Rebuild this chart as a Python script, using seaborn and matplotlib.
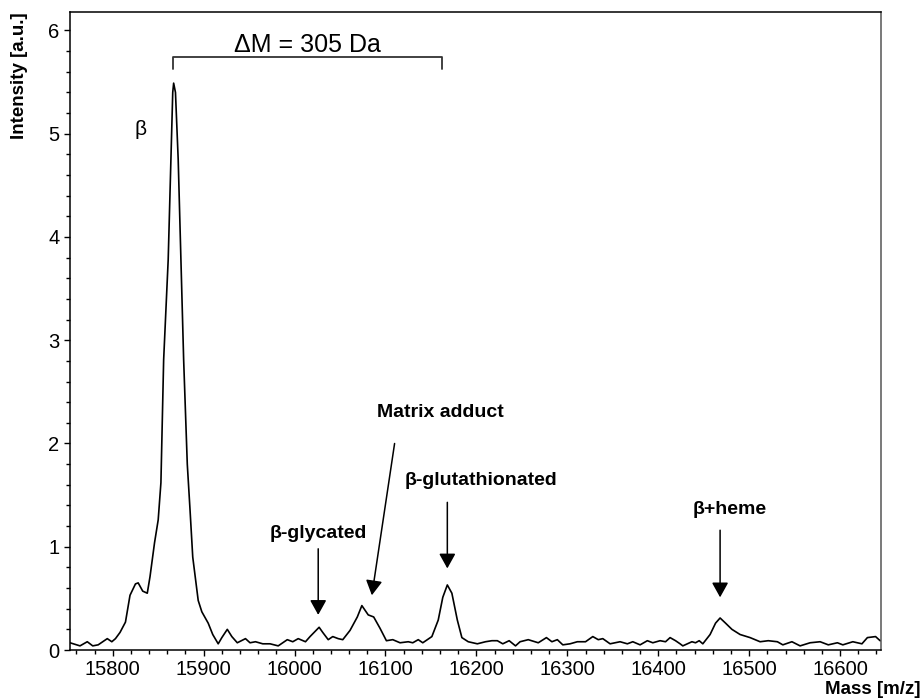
import numpy as np
import pandas as pd
import matplotlib
matplotlib.use("Agg")
import matplotlib.pyplot as plt
from matplotlib.ticker import MultipleLocator
import seaborn as sns

# Spectrum trace (mass in Da, intensity in a.u.)
mass = [
    15750, 15753, 15764, 15772, 15778, 15784, 15794, 15799, 15803, 15808,
    15814, 15819, 15825, 15828, 15833, 15838, 15841, 15846, 15850, 15853,
    15856, 15861, 15864, 15866, 15867, 15869, 15872, 15875, 15878, 15882,
    15885, 15888, 15894, 15898, 15905, 15910, 15916, 15920, 15926, 15931,
    15937, 15946, 15951, 15957, 15965, 15973, 15982, 15992, 15998, 16004,
    16012, 16017, 16027, 16031, 16037, 16042, 16048, 16053, 16061, 16069,
    16074, 16081, 16087, 16094, 16101, 16108, 16116, 16125, 16130, 16136,
    16141, 16151, 16158, 16163, 16168, 16173, 16179, 16184, 16191, 16201,
    16210, 16217, 16223, 16229, 16236, 16243, 16248, 16257, 16268, 16277,
    16283, 16289, 16295, 16303, 16311, 16320, 16328, 16334, 16339, 16347,
    16358, 16366, 16372, 16380, 16388, 16394, 16402, 16408, 16413, 16419,
    16424, 16427, 16437, 16441, 16445, 16449, 16457, 16463, 16468, 16474,
    16481, 16490, 16501, 16512, 16521, 16531, 16537, 16547, 16556, 16567,
    16578, 16587, 16597, 16603, 16614, 16624, 16630, 16639, 16644, 16650,
]
intensity = [
    0.09, 0.07, 0.04, 0.08, 0.04, 0.05, 0.11, 0.08, 0.11, 0.17,
    0.27, 0.53, 0.64, 0.65, 0.57, 0.55, 0.71, 1.04, 1.26, 1.62,
    2.81, 3.78, 4.75, 5.40, 5.49, 5.40, 4.75, 3.78, 2.81, 1.80,
    1.36, 0.90, 0.48, 0.37, 0.26, 0.15, 0.06, 0.12, 0.20, 0.13,
    0.07, 0.11, 0.07, 0.08, 0.06, 0.06, 0.04, 0.10, 0.08, 0.11,
    0.08, 0.13, 0.22, 0.17, 0.10, 0.13, 0.11, 0.10, 0.19, 0.32,
    0.43, 0.34, 0.32, 0.21, 0.09, 0.10, 0.07, 0.08, 0.07, 0.10,
    0.07, 0.13, 0.29, 0.51, 0.63, 0.55, 0.29, 0.12, 0.08, 0.06,
    0.08, 0.09, 0.09, 0.06, 0.09, 0.04, 0.08, 0.10, 0.07, 0.12,
    0.08, 0.10, 0.05, 0.06, 0.08, 0.08, 0.13, 0.10, 0.11, 0.06,
    0.08, 0.06, 0.08, 0.05, 0.09, 0.07, 0.09, 0.08, 0.12, 0.09,
    0.06, 0.04, 0.08, 0.07, 0.09, 0.06, 0.15, 0.26, 0.31, 0.26,
    0.20, 0.15, 0.12, 0.08, 0.09, 0.08, 0.05, 0.08, 0.04, 0.07,
    0.08, 0.05, 0.07, 0.05, 0.08, 0.06, 0.12, 0.13, 0.09, 0.10,
]

# Peak labels: text, text position, arrow start, arrow tip
peak_labels = ["β-glycated", "Matrix adduct", "β-glutathionated", "β+heme"]
label_xy = [(16026, 1.13), (16160, 2.30), (16205, 1.64), (16479, 1.36)]
arrow_from = [(16026, 0.98), (16110, 2.00), (16168, 1.43), (16468, 1.16)]
arrow_to = [(16026, 0.34), (16085, 0.53), (16168, 0.79), (16468, 0.51)]

# Delta-M bracket between the beta peak and the glutathionated peak
bracket_x = [15866, 16162]
bracket_y = 5.74
bracket_drop = 5.63

df = pd.DataFrame({"Mass": mass, "Intensity": intensity})

sns.set_style("ticks")
plt.rcParams["font.family"] = ["Liberation Sans", "DejaVu Sans"]
plt.rcParams["text.color"] = "black"

fig = plt.figure(figsize=(9.21, 6.99), dpi=100)
ax = fig.add_axes([0.076, 0.0701, 0.9566 - 0.076, 0.983 - 0.0701])

sns.lineplot(data=df, x="Mass", y="Intensity", ax=ax, color="black", lw=1.2)

ax.set_xlim(15753, 16645)
ax.set_ylim(0, 6.18)
ax.xaxis.set_major_locator(MultipleLocator(100))
ax.xaxis.set_minor_locator(MultipleLocator(20))
ax.yaxis.set_major_locator(MultipleLocator(1))
ax.yaxis.set_minor_locator(MultipleLocator(0.2))
ax.tick_params(which="major", direction="out", length=4, width=1, labelsize=14.5,
               colors="black", labelcolor="black")
ax.tick_params(which="minor", direction="out", length=3, width=1, colors="black")
ax.set_xlabel("")
ax.set_ylabel("")
for sp in ax.spines.values():
    sp.set_visible(True)
    sp.set_color("black")
    sp.set_linewidth(1.1)
ax.spines["right"].set_color("#555555")

# axis titles
fig.text(0.0217, 0.983, "Intensity [a.u.]", rotation=90, ha="center", va="top",
         fontsize=13.5, fontweight="bold")
fig.text(0.999, 0.0129, "Mass [m/z]", ha="right", va="center",
         fontsize=13.5, fontweight="bold")

# ΔM bracket
ax.plot([bracket_x[0], bracket_x[0], bracket_x[1], bracket_x[1]],
        [bracket_drop, bracket_y, bracket_y, bracket_drop], color="#333333", lw=1.3)
ax.text(sum(bracket_x) / 2, 5.86, "ΔM = 305 Da", ha="center", va="center", fontsize=18)
ax.text(15831, 5.04, "β", ha="center", va="center", fontsize=15)

for lab, xy, a0, a1 in zip(peak_labels, label_xy, arrow_from, arrow_to):
    ax.text(xy[0], xy[1], lab, ha="center", va="center", fontsize=14, fontweight="bold")
    ax.annotate("", xy=a1, xytext=a0,
                arrowprops=dict(arrowstyle="-|>,head_length=0.45,head_width=0.25",
                                mutation_scale=20, color="black", lw=1.1,
                                shrinkA=0, shrinkB=0))

fig.savefig("out.png", dpi=100)
